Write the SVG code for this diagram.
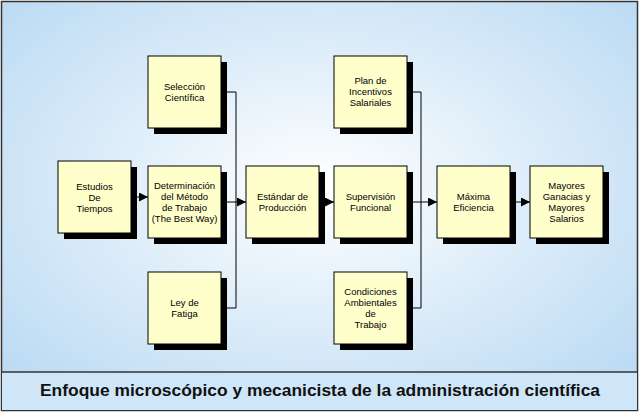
<svg xmlns="http://www.w3.org/2000/svg" width="640" height="414" viewBox="0 0 640 414">
<defs>
<radialGradient id="bg" cx="0.5" cy="0.45" r="0.7">
<stop offset="0" stop-color="#ffffff"/><stop offset="1" stop-color="#b8d9f3"/>
</radialGradient>
<marker id="ah" viewBox="0 0 10 10" refX="10" refY="5" markerWidth="9" markerHeight="9" markerUnits="userSpaceOnUse" orient="auto"><path d="M0,0 L10,5 L0,10 z" fill="#000"/></marker>
</defs>
<style>
.sh{fill:#000}
.bx{fill:#ffffcc;stroke:#000;stroke-width:1}
.t{font-family:"Liberation Sans",Arial,sans-serif;font-size:9.5px;fill:#000;text-anchor:middle}
.c{fill:none;stroke:#000;stroke-width:1}
</style>
<rect x="1.5" y="1.5" width="636" height="409" fill="url(#bg)" stroke="#333" stroke-width="1.5"/>
<rect x="2" y="372" width="635" height="38" fill="#cfe6f8"/>
<line x1="2" y1="372" x2="637" y2="372" stroke="#333" stroke-width="1.5"/>
<text x="320" y="392" font-family="Liberation Sans,Arial,sans-serif" font-size="17" font-weight="bold" text-anchor="middle" dominant-baseline="middle" fill="#111" textLength="560" lengthAdjust="spacingAndGlyphs">Enfoque microscópico y mecanicista de la administración científica</text>
<g id="connectors">
<path class="c" d="M221,92 H236 V308 H221"/>
<path class="c" d="M221,202 H246" marker-end="url(#ah)"/>
<path class="c" d="M131,197 H148" marker-end="url(#ah)"/>
<path class="c" d="M319,202 H334" marker-end="url(#ah)"/>
<path class="c" d="M407,92 H421 V308 H407"/>
<path class="c" d="M407,202 H437" marker-end="url(#ah)"/>
<path class="c" d="M510,202 H530" marker-end="url(#ah)"/>
</g>
<g id="estudios"><rect class="sh" x="64" y="167" width="73" height="72"/><rect class="bx" x="58" y="161" width="73" height="72"/><text class="t" x="94.5" y="190">Estudios</text><text class="t" x="94.5" y="201">De</text><text class="t" x="94.5" y="212">Tiempos</text></g>
<g id="seleccion"><rect class="sh" x="154" y="62" width="73" height="72"/><rect class="bx" x="148" y="56" width="73" height="72"/><text class="t" x="184.5" y="90">Selección</text><text class="t" x="184.5" y="101">Científica</text></g>
<g id="determinacion"><rect class="sh" x="154" y="172" width="73" height="72"/><rect class="bx" x="148" y="166" width="73" height="72"/><text class="t" x="184.5" y="189">Determinación</text><text class="t" x="184.5" y="200">del Método</text><text class="t" x="184.5" y="211">de Trabajo</text><text class="t" x="184.5" y="222">(The Best Way)</text></g>
<g id="ley"><rect class="sh" x="154" y="278" width="73" height="72"/><rect class="bx" x="148" y="272" width="73" height="72"/><text class="t" x="184.5" y="306">Ley de</text><text class="t" x="184.5" y="317">Fatiga</text></g>
<g id="estandar"><rect class="sh" x="252" y="172" width="73" height="72"/><rect class="bx" x="246" y="166" width="73" height="72"/><text class="t" x="282.5" y="200">Estándar de</text><text class="t" x="282.5" y="211">Producción</text></g>
<g id="plan"><rect class="sh" x="340" y="62" width="73" height="72"/><rect class="bx" x="334" y="56" width="73" height="72"/><text class="t" x="370.5" y="84">Plan de</text><text class="t" x="370.5" y="95">Incentivos</text><text class="t" x="370.5" y="106">Salariales</text></g>
<g id="supervision"><rect class="sh" x="340" y="172" width="73" height="72"/><rect class="bx" x="334" y="166" width="73" height="72"/><text class="t" x="370.5" y="200">Supervisión</text><text class="t" x="370.5" y="211">Funcional</text></g>
<g id="condiciones"><rect class="sh" x="340" y="278" width="73" height="72"/><rect class="bx" x="334" y="272" width="73" height="72"/><text class="t" x="370.5" y="295">Condiciones</text><text class="t" x="370.5" y="306">Ambientales</text><text class="t" x="370.5" y="317">de</text><text class="t" x="370.5" y="328">Trabajo</text></g>
<g id="maxima"><rect class="sh" x="443" y="172" width="73" height="72"/><rect class="bx" x="437" y="166" width="73" height="72"/><text class="t" x="473.5" y="200">Máxima</text><text class="t" x="473.5" y="211">Eficiencia</text></g>
<g id="mayores"><rect class="sh" x="536" y="172" width="73" height="72"/><rect class="bx" x="530" y="166" width="73" height="72"/><text class="t" x="566.5" y="189">Mayores</text><text class="t" x="566.5" y="200">Ganacias y</text><text class="t" x="566.5" y="211">Mayores</text><text class="t" x="566.5" y="222">Salarios</text></g>
</svg>
